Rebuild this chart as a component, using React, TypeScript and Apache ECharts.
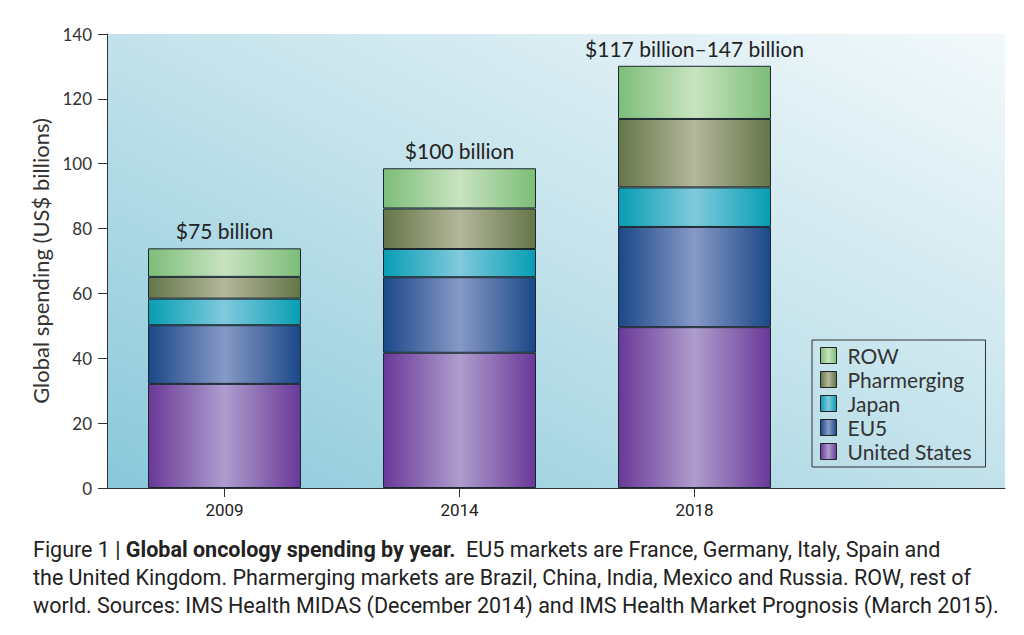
import React, { useEffect, useRef } from "react";
import * as echarts from "echarts";

const years = ["2009", "2014", "2018"];
const unitedStates = [32.1, 41.7, 49.6];
const eu5 = [18.1, 23.3, 30.9];
const japan = [8.2, 8.7, 12.2];
const pharmerging = [6.7, 12.5, 21.1];
const row = [8.8, 12.4, 16.4];
const totalLabels = ["$75 billion", "$100 billion", "$117 billion\u2013147 billion"];
const legendOrder = ["ROW", "Pharmerging", "Japan", "EU5", "United States"];

const FONT = "Lato, 'Open Sans', sans-serif";
const NARROW = "Roboto, 'Liberation Sans Narrow', sans-serif";

const hGrad = (edge: string, mid: string) =>
  new echarts.graphic.LinearGradient(0, 0, 1, 0, [
    { offset: 0, color: edge },
    { offset: 0.5, color: mid },
    { offset: 1, color: edge },
  ]);

export default function App() {
  const ref = useRef<HTMLDivElement>(null);
  useEffect(() => {
    if (!ref.current) return;
    const chart = echarts.init(ref.current, undefined, { renderer: "svg" });
    const barBase = {
      type: "bar" as const,
      stack: "total",
      xAxisIndex: 0,
      yAxisIndex: 0,
      barWidth: 153,
    };
    const mk = (name: string, data: number[], edge: string, mid: string, extra: any = {}) => ({
      ...barBase,
      name,
      data,
      itemStyle: { color: hGrad(edge, mid), borderColor: "#1b2730", borderWidth: 1 },
      ...extra,
    });
    chart.setOption({
      animation: false,
      backgroundColor: "#ffffff",
      title: {
        left: 33,
        top: 535,
        padding: 0,
        text:
          "{n|Figure 1 | }{b|Global oncology spending by year.}{n|  EU5 markets are France, Germany, Italy, Spain and}\n" +
          "{n|the United Kingdom. Pharmerging markets are Brazil, China, India, Mexico and Russia. ROW, rest of}\n" +
          "{n|world. Sources: IMS Health MIDAS (December 2014) and IMS Health Market Prognosis (March 2015).}",
        textStyle: {
          fontWeight: "normal",
          rich: {
            n: { fontFamily: NARROW, fontSize: 21.5, fontWeight: "normal", color: "#222", lineHeight: 28 },
            b: { fontFamily: NARROW, fontSize: 21.5, fontWeight: "bold", color: "#222", lineHeight: 28 },
          },
        },
      },
      grid: [
        { left: 107, right: 212, top: 34, bottom: 147 },
        {
          left: 107,
          right: 19,
          top: 34,
          bottom: 147,
          show: true,
          borderWidth: 0,
          backgroundColor: new echarts.graphic.LinearGradient(0, 1, 1, 0, [
            { offset: 0, color: "#89c8da" },
            { offset: 0.5, color: "#c2e2eb" },
            { offset: 1, color: "#f3f9fb" },
          ]),
        },
      ],
      xAxis: [
        {
          gridIndex: 0,
          type: "category",
          data: years,
          axisLine: { show: true, lineStyle: { color: "#333", width: 1 } },
          axisTick: { show: true, alignWithLabel: true, length: 9, lineStyle: { color: "#333" } },
          axisLabel: { margin: 13, fontFamily: NARROW, fontSize: 17, color: "#222" },
        },
        {
          gridIndex: 1,
          type: "value",
          min: 0,
          max: 1,
          axisLine: { show: true, lineStyle: { color: "#333", width: 1 } },
          axisTick: { show: false },
          axisLabel: { show: false },
          splitLine: { show: false },
        },
      ],
      yAxis: [
        {
          gridIndex: 0,
          type: "value",
          min: 0,
          max: 140,
          interval: 20,
          name: "Global spending (US$ billions)",
          nameLocation: "middle",
          nameGap: 51,
          nameTextStyle: { fontFamily: FONT, fontSize: 22, color: "#333" },
          axisLine: { show: true, lineStyle: { color: "#333", width: 1 } },
          axisTick: { show: true, length: 9, lineStyle: { color: "#333" } },
          axisLabel: { margin: 15, fontFamily: FONT, fontSize: 17, color: "#333" },
          splitLine: { show: false },
        },
        { gridIndex: 1, type: "value", min: 0, max: 1, show: false },
      ],
      legend: {
        data: legendOrder,
        orient: "vertical",
        left: 812,
        top: 340,
        padding: [5, 14, 5, 8],
        itemWidth: 16,
        itemHeight: 16,
        itemGap: 3,
        icon: "rect",
        borderColor: "#333",
        borderWidth: 1,
        itemStyle: { borderColor: "#222", borderWidth: 1 },
        textStyle: { fontFamily: FONT, fontSize: 21, lineHeight: 20, color: "#333", padding: [0, 0, 0, 6] },
      },
      series: [
        mk("United States", unitedStates, "#6a3898", "#ae9dcd"),
        mk("EU5", eu5, "#1b4888", "#8799c6"),
        mk("Japan", japan, "#079db4", "#80cadc"),
        mk("Pharmerging", pharmerging, "#647548", "#b4b79b"),
        mk("ROW", row, "#7cbd78", "#c9e3c1", {
          label: {
            show: true,
            position: "top",
            distance: 7,
            formatter: (p: any) => totalLabels[p.dataIndex],
            fontFamily: FONT,
            fontSize: 21,
            color: "#222",
          },
        }),
      ],
    });
    return () => chart.dispose();
  }, []);
  return (
    <div
      ref={ref}
      style={{ position: "absolute", left: 0, top: 0, width: 1024, height: 635 }}
    />
  );
}
